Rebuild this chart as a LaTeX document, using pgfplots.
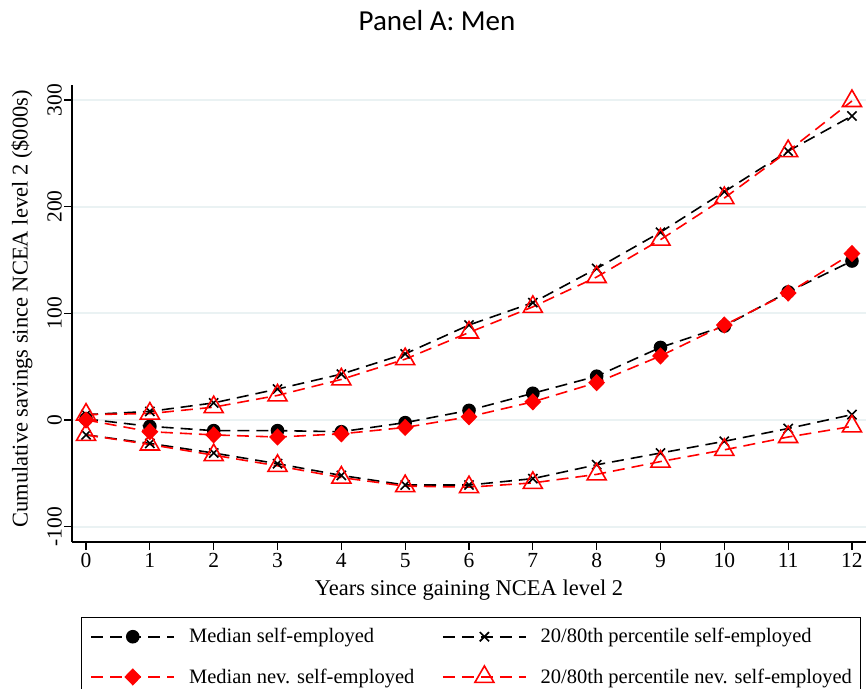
\documentclass[border=0pt]{standalone}
\usepackage{fontspec}
\setmainfont{Liberation Serif}
\newfontfamily\titlefont{Carlito}
\usepackage{pgfplots}
\pgfplotsset{compat=1.18}
\definecolor{gridc}{RGB}{234,242,243}
\pgfplotsset{
  dline/.style={line width=1.6pt, dash pattern=on 12pt off 7pt},
  medse/.style={dline, black, mark=*, mark size=6pt, mark options={solid, fill=black}},
  pctse/.style={dline, black, mark=x, mark size=6.5pt, mark options={solid, line width=1.6pt}},
  mednev/.style={dline, red, mark=diamond*, mark size=7.5pt, mark options={solid, fill=red, xscale=1.3}},
  pctnev/.style={dline, red, mark=triangle, mark size=11pt, mark options={solid, line width=1.6pt}},
}
\pgfplotstableread{
x  medse  mednev upse upnev  lose  lonev
0   1      0     5     5    -14   -14
1  -6    -11     8     6    -22   -23
2  -10   -14    16    12    -31   -33
3  -10   -16    29    23    -41   -43
4  -11   -13    43    38    -52   -54
5  -2.5  -7     62    57    -61   -62
6   9     3     89    82    -61   -63
7   25   17    110   106    -55   -59
8   41   35    142   134    -42   -51
9   68   60    176   169    -31   -39
10  88   89    214   208    -20   -28
11  120  119   252   252    -8    -16
12  149  156   285   299     5    -6
}\datatable
\begin{document}
\begin{tikzpicture}
\path[use as bounding box] (-72pt,-146pt) rectangle (794pt,542pt);
\begin{axis}[
  at={(0pt,0pt)}, anchor=south west,
  scale only axis, width=794pt, height=457pt,
  xmin=-0.22, xmax=12.22, ymin=-114.4, ymax=314,
  clip=false,
  axis x line*=bottom, axis y line*=left,
  axis line style={line width=1.3pt, black, -},
  xtick={0,1,2,3,4,5,6,7,8,9,10,11,12},
  xticklabels={0,1,2,3,4,5,6,7,8,9,10,11,12},
  ytick={-100,0,100,200,300},
  yticklabels={-100,0,100,200,300},
  tick align=outside, major tick length=8pt,
  tick style={line width=1.2pt, black},
  ymajorgrids, grid style={gridc, line width=2pt},
  ticklabel style={font=\fontsize{21.5}{24}\selectfont},
  yticklabel style={rotate=90, anchor=south, inner sep=2pt},
  xticklabel style={anchor=north, inner sep=3pt},
  xlabel={Years since gaining NCEA level 2},
  ylabel={Cumulative savings since NCEA level 2 (\$000s)},
  xlabel style={at={(axis description cs:0.5,-0.105)}, anchor=center, font=\fontsize{22.5}{26}\selectfont},
  ylabel style={at={(axis description cs:-0.063,0.51)}, anchor=center, font=\fontsize{22.5}{26}\selectfont},
  legend columns=2,
  legend cell align=left,
  legend style={at={(0.01134,-0.1641)}, anchor=north west, draw=black, line width=1pt,
    inner xsep=9pt, inner ysep=11pt, font=\fontsize{20.5}{24}\selectfont, row sep=21pt,
    nodes={inner sep=0pt, text depth=0.2em},
    /tikz/every odd column/.append style={column sep=14pt},
    /tikz/every even column/.append style={column sep=8pt}},
  legend image code/.code={\draw[mark repeat=2,mark phase=2,#1] plot coordinates {(0pt,0pt) (41.5pt,0pt) (83pt,0pt)};},
]
\addplot[medse] table[x=x,y=medse]{\datatable};
\addlegendentry{\makebox[245pt][l]{Median self-employed}}
\addplot[pctse] table[x=x,y=upse]{\datatable};
\addlegendentry{20/80th percentile self-employed}
\addplot[mednev] table[x=x,y=mednev]{\datatable};
\addlegendentry{\makebox[245pt][l]{Median nev. self-employed}}
\addplot[pctnev] table[x=x,y=upnev]{\datatable};
\addlegendentry{20/80th percentile nev. self-employed}
\addplot[pctse, forget plot] table[x=x,y=lose]{\datatable};
\addplot[pctnev, forget plot] table[x=x,y=lonev]{\datatable};
\end{axis}
\node[font=\titlefont\fontsize{29}{34}\selectfont] at (365pt,521pt) {Panel A: Men};
\end{tikzpicture}
\end{document}
